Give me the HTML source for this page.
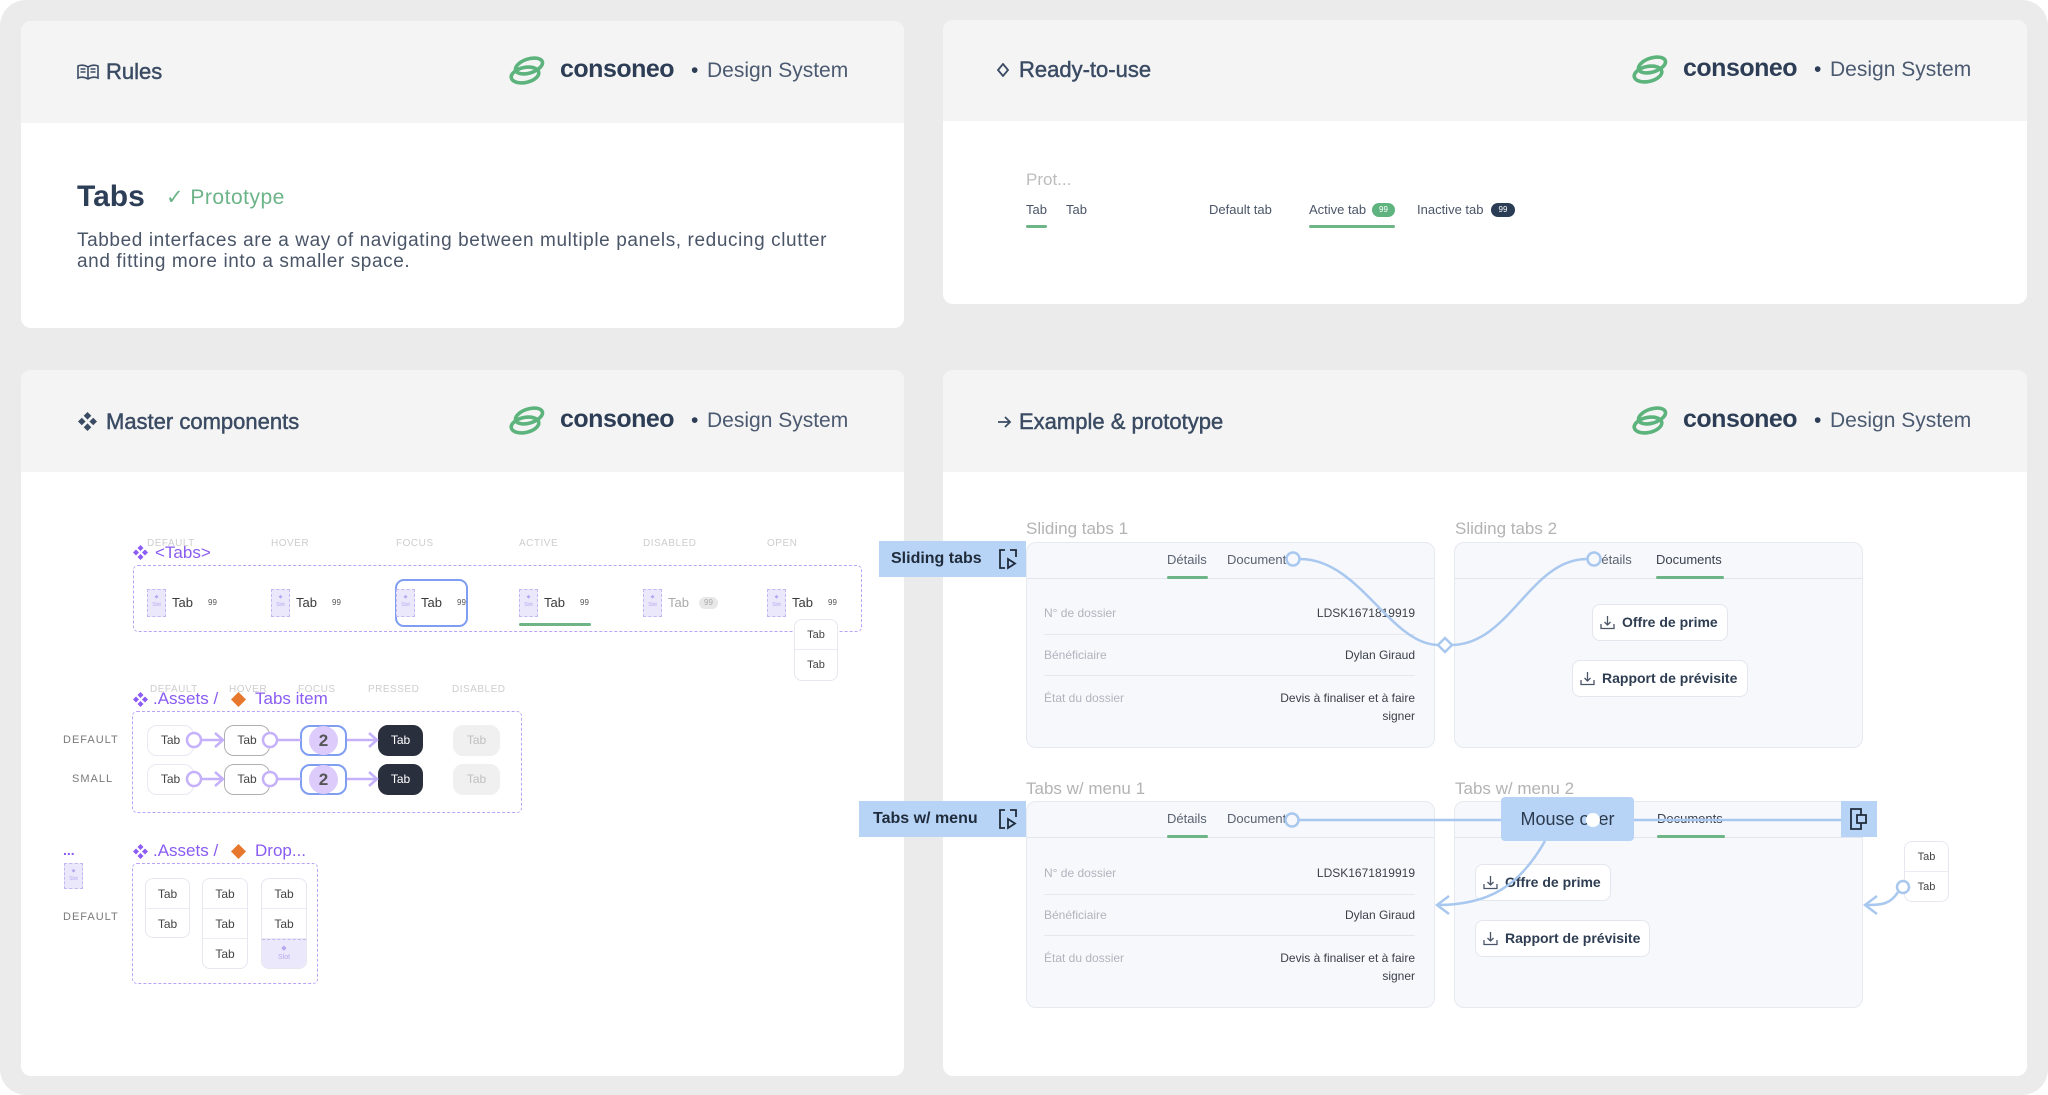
<!DOCTYPE html>
<html><head><meta charset="utf-8">
<style>
*{margin:0;padding:0;box-sizing:border-box}
html,body{width:2048px;height:1095px;overflow:hidden;background:#fff}
body{font-family:"Liberation Sans",Arial,sans-serif;position:relative}
.a{position:absolute;white-space:nowrap}
.bg{left:0;top:0;width:2048px;height:1095px;background:#ebebeb;border-radius:26px}
.panel{background:#fff;border-radius:10px;overflow:hidden}
.hdr{position:absolute;left:0;top:0;right:0;background:#f4f4f4}
.ht{font-size:22px;line-height:28px;color:#3a4b63;-webkit-text-stroke:0.45px #3a4b63}
.cons{font-size:25px;line-height:32px;font-weight:bold;color:#2c3d55;letter-spacing:-0.5px}
.ds{font-size:21px;line-height:32px;color:#4b5a70}
.dot{font-size:21px;line-height:32px;color:#2c3d55}
.st{font-size:10px;line-height:12px;color:#cdcdcd;letter-spacing:.5px}
.pt{font-size:17px;line-height:20px;color:#8a5cf0}
.slot{width:19px;height:28px;background:#ece8fc;border:1px dashed #c4b8f3;font-size:5px;color:#b7a8f0;text-align:center;line-height:8px;padding-top:3px}
.t13{font-size:13px;line-height:16px;color:#3a3a3a}
.b99{width:17px;height:12px;border-radius:6px;font-size:8px;line-height:12px;text-align:center;color:#555;background:#f3f3f3}
.ti{height:31px;border-radius:10px;font-size:12px;line-height:29px;text-align:center;color:#444;background:#fff;border:1px solid #ebe7f3}
.rl{font-size:11px;line-height:14px;color:#7a7a7a;letter-spacing:1px}
.dash{border:1.5px dashed #b9a3f7;border-radius:5px}
.cell{height:30px;font-size:12px;line-height:30px;text-align:center;color:#444;border-bottom:1px solid #eceaf2}
.col{background:#fff;border:1px solid #e9e6f0;border-radius:8px;overflow:hidden}
.card{background:#f7f8fc;border:1px solid #e6e9f0;border-radius:10px;overflow:hidden}
.chd{position:absolute;left:0;top:0;right:0;height:36px;border-bottom:1px solid #e3e6ee}
.ctab{position:absolute;top:9px;font-size:13px;line-height:16px;color:#5a6270}
.uline{position:absolute;height:3px;background:#6db487;border-radius:2px}
.rlab{position:absolute;left:17px;font-size:12px;line-height:14px;color:#b0b4bc}
.rval{position:absolute;right:19px;font-size:12px;line-height:14px;color:#3a3f48;text-align:right}
.sep{position:absolute;left:17px;right:19px;height:1px;background:#e6e8ee}
.cl{font-size:17px;line-height:20px;color:#b3b3b3}
.blue{background:#b7d4f6}
.lab{font-size:16px;font-weight:bold;line-height:36px;color:#1f2b3b}
.btn{position:absolute;height:37px;background:#fff;border:1px solid #e3e6ee;border-radius:8px;font-size:14px;font-weight:bold;color:#2e3d52;line-height:35px}
.btn svg{position:absolute;left:7px;top:10px}
.btn span{position:absolute;left:29px}
</style></head><body>
<div class="a bg"></div>

<!-- Panels -->
<div class="a panel" style="left:21px;top:21px;width:883px;height:307px"><div class="hdr" style="height:102px"></div></div>
<div class="a panel" style="left:943px;top:20px;width:1084px;height:284px"><div class="hdr" style="height:101px"></div></div>
<div class="a panel" style="left:21px;top:370px;width:883px;height:706px"><div class="hdr" style="height:102px"></div></div>
<div class="a panel" style="left:943px;top:370px;width:1084px;height:706px"><div class="hdr" style="height:102px"></div></div>

<!-- Header titles -->
<svg class="a" style="left:77px;top:64px" width="22" height="16" viewBox="0 0 22 16"><g fill="none" stroke="#3a4b63" stroke-width="1.6"><path d="M1 2 Q6 0 11 3 Q16 0 21 2 V14 Q16 12 11 15 Q6 12 1 14 Z"/><path d="M11 3 V15"/><path d="M3.5 5 H8.5 M3.5 8 H8.5 M13.5 5 H18.5 M13.5 8 H18.5"/></g></svg>
<div class="a ht" style="left:106px;top:58px">Rules</div>

<svg class="a" style="left:997px;top:63px" width="12" height="14" viewBox="0 0 12 14"><path d="M6 1 L11 7 L6 13 L1 7 Z" fill="none" stroke="#3a4b63" stroke-width="1.8"/></svg>
<div class="a ht" style="left:1019px;top:56px">Ready-to-use</div>

<svg class="a" style="left:78px;top:412px" width="19" height="19" viewBox="0 0 16 16"><g fill="#3a4b63"><path d="M8 0l3.2 3.2-3.2 3.2-3.2-3.2z"/><path d="M8 9.6l3.2 3.2-3.2 3.2-3.2-3.2z"/><path d="M3.2 4.8l3.2 3.2-3.2 3.2L0 8z"/><path d="M12.8 4.8L16 8l-3.2 3.2L9.6 8z"/></g></svg>
<div class="a ht" style="left:106px;top:408px">Master components</div>

<svg class="a" style="left:997px;top:415px" width="15" height="14" viewBox="0 0 15 14"><g fill="none" stroke="#3a4b63" stroke-width="1.8"><path d="M1 7H13M8 2L13 7 8 12"/></g></svg>
<div class="a ht" style="left:1019px;top:408px">Example &amp; prototype</div>

<!-- Logos -->
<div class="a" style="left:508px;top:55px;width:360px;height:32px">
 <svg class="a" style="left:0;top:1px" width="38" height="30" viewBox="0 0 38 30"><g fill="none" stroke="#5cb37c" stroke-width="3.6"><ellipse cx="21" cy="10" rx="14" ry="7" transform="rotate(-18 21 10)"/><ellipse cx="17" cy="19" rx="14" ry="7.5" transform="rotate(-12 17 19)"/></g></svg>
 <div class="a cons" style="left:52px;top:-2px">consoneo</div>
 <div class="a dot" style="left:183px;top:0">•</div>
 <div class="a ds" style="left:199px;top:0">Design System</div>
</div>
<div class="a" style="left:1631px;top:54px;width:360px;height:32px">
 <svg class="a" style="left:0;top:1px" width="38" height="30" viewBox="0 0 38 30"><g fill="none" stroke="#5cb37c" stroke-width="3.6"><ellipse cx="21" cy="10" rx="14" ry="7" transform="rotate(-18 21 10)"/><ellipse cx="17" cy="19" rx="14" ry="7.5" transform="rotate(-12 17 19)"/></g></svg>
 <div class="a cons" style="left:52px;top:-2px">consoneo</div>
 <div class="a dot" style="left:183px;top:0">•</div>
 <div class="a ds" style="left:199px;top:0">Design System</div>
</div>
<div class="a" style="left:508px;top:405px;width:360px;height:32px">
 <svg class="a" style="left:0;top:1px" width="38" height="30" viewBox="0 0 38 30"><g fill="none" stroke="#5cb37c" stroke-width="3.6"><ellipse cx="21" cy="10" rx="14" ry="7" transform="rotate(-18 21 10)"/><ellipse cx="17" cy="19" rx="14" ry="7.5" transform="rotate(-12 17 19)"/></g></svg>
 <div class="a cons" style="left:52px;top:-2px">consoneo</div>
 <div class="a dot" style="left:183px;top:0">•</div>
 <div class="a ds" style="left:199px;top:0">Design System</div>
</div>
<div class="a" style="left:1631px;top:405px;width:360px;height:32px">
 <svg class="a" style="left:0;top:1px" width="38" height="30" viewBox="0 0 38 30"><g fill="none" stroke="#5cb37c" stroke-width="3.6"><ellipse cx="21" cy="10" rx="14" ry="7" transform="rotate(-18 21 10)"/><ellipse cx="17" cy="19" rx="14" ry="7.5" transform="rotate(-12 17 19)"/></g></svg>
 <div class="a cons" style="left:52px;top:-2px">consoneo</div>
 <div class="a dot" style="left:183px;top:0">•</div>
 <div class="a ds" style="left:199px;top:0">Design System</div>
</div>

<!-- Panel 1 body -->
<div class="a" style="left:77px;top:179px;font-size:30px;line-height:36px;font-weight:bold;color:#2d3e57">Tabs</div>
<div class="a" style="left:166px;top:185px;font-size:21px;line-height:26px;color:#6cb488;letter-spacing:.5px">✓ Prototype</div>
<div class="a" style="left:77px;top:230px;font-size:19px;line-height:21px;color:#4a5568;letter-spacing:.6px;white-space:nowrap">Tabbed interfaces are a way of navigating between multiple panels, reducing clutter<br>and fitting more into a smaller space.</div>

<!-- Panel 2 body -->
<div class="a" style="left:1026px;top:170px;font-size:17px;line-height:20px;color:#bdbdbd">Prot...</div>
<div class="a t13" style="left:1026px;top:202px;color:#4a5568">Tab</div>
<div class="a t13" style="left:1066px;top:202px;color:#4a5568">Tab</div>
<div class="a" style="left:1026px;top:225px;width:21px;height:3px;background:#6db487;border-radius:2px"></div>
<div class="a t13" style="left:1209px;top:202px;color:#4a5568">Default tab</div>
<div class="a t13" style="left:1309px;top:202px;color:#4a5568">Active tab</div>
<div class="a" style="left:1372px;top:203px;width:23px;height:14px;border-radius:7px;background:#5fb37f;color:#fff;font-size:8px;line-height:14px;text-align:center">99</div>
<div class="a" style="left:1309px;top:225px;width:86px;height:3px;background:#6db487;border-radius:2px"></div>
<div class="a t13" style="left:1417px;top:202px;color:#4a5568">Inactive tab</div>
<div class="a" style="left:1491px;top:203px;width:24px;height:14px;border-radius:7px;background:#2b3c55;color:#fff;font-size:8px;line-height:14px;text-align:center">99</div>

<!-- Panel 3 body: <Tabs> -->
<div class="a st" style="left:147px;top:538px">DEFAULT</div>
<div class="a st" style="left:271px;top:538px">HOVER</div>
<div class="a st" style="left:396px;top:538px">FOCUS</div>
<div class="a st" style="left:519px;top:538px">ACTIVE</div>
<div class="a st" style="left:643px;top:538px">DISABLED</div>
<div class="a st" style="left:767px;top:538px">OPEN</div>
<svg class="a" style="left:133px;top:545px" width="15" height="15" viewBox="0 0 16 16"><g fill="#8b5cf6"><path d="M8 0l3.2 3.2-3.2 3.2-3.2-3.2z"/><path d="M8 9.6l3.2 3.2-3.2 3.2-3.2-3.2z"/><path d="M3.2 4.8l3.2 3.2-3.2 3.2L0 8z"/><path d="M12.8 4.8L16 8l-3.2 3.2L9.6 8z"/></g></svg>
<div class="a pt" style="left:155px;top:543px">&lt;Tabs&gt;</div>
<div class="a dash" style="left:133px;top:565px;width:729px;height:67px"></div>

<div class="a" style="left:395px;top:579px;width:73px;height:48px;border:2px solid #7f9ef2;border-radius:9px"></div>
<div class="a" style="left:519px;top:623px;width:72px;height:3px;background:#6db487;border-radius:2px"></div>

<div class="a slot" style="left:147px;top:589px">◆<br>Slot</div><div class="a t13" style="left:172px;top:595px">Tab</div><div class="a b99" style="left:204px;top:597px;background:transparent">99</div>
<div class="a slot" style="left:271px;top:589px">◆<br>Slot</div><div class="a t13" style="left:296px;top:595px">Tab</div><div class="a b99" style="left:328px;top:597px;background:transparent">99</div>
<div class="a slot" style="left:396px;top:589px">◆<br>Slot</div><div class="a t13" style="left:421px;top:595px">Tab</div><div class="a b99" style="left:453px;top:597px;background:transparent">99</div>
<div class="a slot" style="left:519px;top:589px">◆<br>Slot</div><div class="a t13" style="left:544px;top:595px">Tab</div><div class="a b99" style="left:576px;top:597px;background:transparent">99</div>
<div class="a slot" style="left:643px;top:589px">◆<br>Slot</div><div class="a t13" style="left:668px;top:595px;color:#aaa">Tab</div><div class="a b99" style="left:699px;top:597px;background:#e8e8e8;color:#aaa;width:19px">99</div>
<div class="a slot" style="left:767px;top:589px">◆<br>Slot</div><div class="a t13" style="left:792px;top:595px">Tab</div><div class="a b99" style="left:824px;top:597px;background:transparent">99</div>
<div class="a col" style="left:794px;top:619px;width:44px;height:62px"><div class="cell" style="font-size:11px">Tab</div><div class="cell" style="font-size:11px;border-bottom:none">Tab</div></div>

<!-- Tabs item -->
<div class="a st" style="left:150px;top:684px">DEFAULT</div>
<div class="a st" style="left:229px;top:684px">HOVER</div>
<div class="a st" style="left:298px;top:684px">FOCUS</div>
<div class="a st" style="left:368px;top:684px">PRESSED</div>
<div class="a st" style="left:452px;top:684px">DISABLED</div>
<svg class="a" style="left:133px;top:692px" width="15" height="15" viewBox="0 0 16 16"><g fill="#8b5cf6"><path d="M8 0l3.2 3.2-3.2 3.2-3.2-3.2z"/><path d="M8 9.6l3.2 3.2-3.2 3.2-3.2-3.2z"/><path d="M3.2 4.8l3.2 3.2-3.2 3.2L0 8z"/><path d="M12.8 4.8L16 8l-3.2 3.2L9.6 8z"/></g></svg>
<div class="a pt" style="left:153px;top:689px">.Assets /</div>
<svg class="a" style="left:231px;top:692px" width="15" height="15" viewBox="0 0 15 15"><path d="M7.5 0L15 7.5 7.5 15 0 7.5z" fill="#e8772e"/></svg>
<div class="a pt" style="left:255px;top:689px">Tabs item</div>
<div class="a dash" style="left:132px;top:711px;width:390px;height:102px"></div>
<div class="a rl" style="left:63px;top:733px">DEFAULT</div>
<div class="a rl" style="left:72px;top:772px">SMALL</div>

<div class="a ti" style="left:147px;top:725px;width:47px">Tab</div>
<div class="a ti" style="left:224px;top:725px;width:46px;border-color:#b0b0b0">Tab</div>
<div class="a ti" style="left:300px;top:725px;width:47px;border:2px solid #7f9ef2"></div>
<div class="a" style="left:309px;top:726px;width:29px;height:29px;border-radius:15px;background:#dccbfb;font-size:17px;font-weight:bold;line-height:29px;text-align:center;color:#555">2</div>
<div class="a ti" style="left:378px;top:725px;width:45px;background:#2a2f3d;border-color:#2a2f3d;color:#fff">Tab</div>
<div class="a ti" style="left:453px;top:725px;width:47px;background:#f0f0f0;border-color:#f0f0f0;color:#c0c0c0">Tab</div>

<div class="a ti" style="left:147px;top:764px;width:47px">Tab</div>
<div class="a ti" style="left:224px;top:764px;width:46px;border-color:#b0b0b0">Tab</div>
<div class="a ti" style="left:300px;top:764px;width:47px;border:2px solid #7f9ef2"></div>
<div class="a" style="left:309px;top:765px;width:29px;height:29px;border-radius:15px;background:#dccbfb;font-size:17px;font-weight:bold;line-height:29px;text-align:center;color:#555">2</div>
<div class="a ti" style="left:378px;top:764px;width:45px;background:#2a2f3d;border-color:#2a2f3d;color:#fff">Tab</div>
<div class="a ti" style="left:453px;top:764px;width:47px;background:#f0f0f0;border-color:#f0f0f0;color:#c0c0c0">Tab</div>

<!-- Drop section -->
<div class="a" style="left:63px;top:843px;font-size:14px;line-height:14px;color:#8a5cf0;font-weight:bold">...</div>
<div class="a slot" style="left:64px;top:863px;height:26px">◆<br>Slot</div>
<div class="a rl" style="left:63px;top:910px">DEFAULT</div>
<svg class="a" style="left:133px;top:844px" width="15" height="15" viewBox="0 0 16 16"><g fill="#8b5cf6"><path d="M8 0l3.2 3.2-3.2 3.2-3.2-3.2z"/><path d="M8 9.6l3.2 3.2-3.2 3.2-3.2-3.2z"/><path d="M3.2 4.8l3.2 3.2-3.2 3.2L0 8z"/><path d="M12.8 4.8L16 8l-3.2 3.2L9.6 8z"/></g></svg>
<div class="a pt" style="left:153px;top:841px">.Assets /</div>
<svg class="a" style="left:231px;top:844px" width="15" height="15" viewBox="0 0 15 15"><path d="M7.5 0L15 7.5 7.5 15 0 7.5z" fill="#e8772e"/></svg>
<div class="a pt" style="left:255px;top:841px">Drop...</div>
<div class="a dash" style="left:132px;top:863px;width:186px;height:121px"></div>
<div class="a col" style="left:145px;top:878px;width:45px;height:60px"><div class="cell">Tab</div><div class="cell" style="border-bottom:none">Tab</div></div>
<div class="a col" style="left:202px;top:878px;width:46px;height:91px"><div class="cell">Tab</div><div class="cell">Tab</div><div class="cell" style="border-bottom:none">Tab</div></div>
<div class="a col" style="left:261px;top:878px;width:46px;height:91px"><div class="cell">Tab</div><div class="cell">Tab</div><div style="height:31px;background:#ece8fc;border-top:1px dashed #c4b8f3;font-size:7px;line-height:9px;text-align:center;color:#b7a8f0;padding-top:4px">◆<br>Slot</div></div>

<!-- Panel 4 cards -->
<div class="a cl" style="left:1026px;top:519px">Sliding tabs 1</div>
<div class="a cl" style="left:1455px;top:519px">Sliding tabs 2</div>
<div class="a cl" style="left:1026px;top:779px">Tabs w/ menu 1</div>
<div class="a cl" style="left:1455px;top:779px">Tabs w/ menu 2</div>

<div class="a card" style="left:1026px;top:542px;width:409px;height:206px">
 <div class="chd"></div>
 <div class="ctab" style="left:140px">Détails</div>
 <div class="ctab" style="left:200px">Documents</div>
 <div class="uline" style="left:140px;top:33px;width:41px"></div>
 <div class="rlab" style="top:63px">N° de dossier</div><div class="rval" style="top:63px">LDSK1671819919</div>
 <div class="sep" style="top:91px"></div>
 <div class="rlab" style="top:105px">Bénéficiaire</div><div class="rval" style="top:105px">Dylan Giraud</div>
 <div class="sep" style="top:132px"></div>
 <div class="rlab" style="top:148px">État du dossier</div><div class="rval" style="top:148px">Devis à finaliser et à faire</div><div class="rval" style="top:166px">signer</div>
</div>
<div class="a card" style="left:1454px;top:542px;width:409px;height:206px">
 <div class="chd"></div>
 <div class="ctab" style="left:137px">Détails</div>
 <div class="ctab" style="left:201px;color:#3a4250">Documents</div>
 <div class="uline" style="left:201px;top:33px;width:68px"></div>
 <div class="btn" style="left:137px;top:61px;width:136px"><svg width="15" height="15" viewBox="0 0 15 15"><g fill="none" stroke="#4a5568" stroke-width="1.3"><path d="M7.5 1V10M4.5 7L7.5 10 10.5 7M1 9V13.5H14V9"/></g></svg><span>Offre de prime</span></div>
 <div class="btn" style="left:117px;top:117px;width:176px"><svg width="15" height="15" viewBox="0 0 15 15"><g fill="none" stroke="#4a5568" stroke-width="1.3"><path d="M7.5 1V10M4.5 7L7.5 10 10.5 7M1 9V13.5H14V9"/></g></svg><span>Rapport de prévisite</span></div>
</div>
<div class="a card" style="left:1026px;top:801px;width:409px;height:207px">
 <div class="chd"></div>
 <div class="ctab" style="left:140px">Détails</div>
 <div class="ctab" style="left:200px">Documents</div>
 <div class="uline" style="left:140px;top:33px;width:41px"></div>
 <div class="rlab" style="top:64px">N° de dossier</div><div class="rval" style="top:64px">LDSK1671819919</div>
 <div class="sep" style="top:92px"></div>
 <div class="rlab" style="top:106px">Bénéficiaire</div><div class="rval" style="top:106px">Dylan Giraud</div>
 <div class="sep" style="top:133px"></div>
 <div class="rlab" style="top:149px">État du dossier</div><div class="rval" style="top:149px">Devis à finaliser et à faire</div><div class="rval" style="top:167px">signer</div>
</div>
<div class="a card" style="left:1454px;top:801px;width:409px;height:207px">
 <div class="chd"></div>
 <div class="ctab" style="left:202px;color:#3a4250">Documents</div>
 <div class="uline" style="left:202px;top:33px;width:68px"></div>
 <div class="btn" style="left:20px;top:62px;width:136px"><svg width="15" height="15" viewBox="0 0 15 15"><g fill="none" stroke="#4a5568" stroke-width="1.3"><path d="M7.5 1V10M4.5 7L7.5 10 10.5 7M1 9V13.5H14V9"/></g></svg><span>Offre de prime</span></div>
 <div class="btn" style="left:20px;top:118px;width:175px"><svg width="15" height="15" viewBox="0 0 15 15"><g fill="none" stroke="#4a5568" stroke-width="1.3"><path d="M7.5 1V10M4.5 7L7.5 10 10.5 7M1 9V13.5H14V9"/></g></svg><span>Rapport de prévisite</span></div>
</div>

<!-- right dropdown -->
<div class="a col" style="left:1904px;top:841px;width:45px;height:61px"><div class="cell" style="font-size:11px">Tab</div><div class="cell" style="font-size:11px;border-bottom:none">Tab</div></div>

<!-- blue labels -->
<div class="a blue" style="left:879px;top:541px;width:147px;height:36px"><div class="a lab" style="left:12px;top:0">Sliding tabs</div>
 <svg class="a" style="left:119px;top:7px" width="20" height="22" viewBox="0 0 20 22"><g fill="none" stroke="#1f2b3b" stroke-width="1.8"><path d="M7 2H2V20H7M12 2H18V9"/><path d="M10 11L17 15.5 10 20Z"/></g></svg></div>
<div class="a blue" style="left:859px;top:801px;width:167px;height:36px"><div class="a lab" style="left:14px;top:0">Tabs w/ menu</div>
 <svg class="a" style="left:139px;top:7px" width="20" height="22" viewBox="0 0 20 22"><g fill="none" stroke="#1f2b3b" stroke-width="1.8"><path d="M7 2H2V20H7M12 2H18V9"/><path d="M10 11L17 15.5 10 20Z"/></g></svg></div>
<div class="a blue" style="left:1501px;top:797px;width:133px;height:44px;border-radius:4px"><div class="a" style="left:0;width:133px;text-align:center;top:0;font-size:18px;line-height:44px;color:#2c3a4d">Mouse over</div></div>
<div class="a blue" style="left:1841px;top:801px;width:36px;height:36px">
 <svg class="a" style="left:8px;top:6px" width="20" height="24" viewBox="0 0 20 24"><g fill="none" stroke="#1f2b3b" stroke-width="1.8"><path d="M2 2H12V22H2Z"/><path d="M8 8H17V16H8Z" fill="#b7d4f6"/></g></svg></div>

<!-- connectors overlay -->
<svg class="a" style="left:0;top:0" width="2048" height="1095" viewBox="0 0 2048 1095">
 <g fill="none" stroke="#c5b0fa" stroke-width="2.5">
  <line x1="201" y1="740" x2="222" y2="740"/><path d="M215 733L223 740 215 747"/>
  <line x1="277" y1="740" x2="301" y2="740"/>
  <line x1="347" y1="740" x2="376" y2="740"/><path d="M369 733L377 740 369 747"/>
  <line x1="201" y1="779" x2="222" y2="779"/><path d="M215 772L223 779 215 786"/>
  <line x1="277" y1="779" x2="301" y2="779"/>
  <line x1="347" y1="779" x2="376" y2="779"/><path d="M369 772L377 779 369 786"/>
  <circle cx="194" cy="740" r="7" fill="#fff"/><circle cx="270" cy="740" r="7" fill="#fff"/>
  <circle cx="194" cy="779" r="7" fill="#fff"/><circle cx="270" cy="779" r="7" fill="#fff"/>
 </g>
 <g fill="none" stroke="#a9c8ef" stroke-width="2.5">
  <path d="M1300 559 C1360 559 1390 645 1439 645"/>
  <path d="M1451 645 C1510 645 1530 559 1587 559"/>
  <path d="M1445 638 L1452 645 1445 652 1438 645Z" fill="#fff"/>
  <circle cx="1293" cy="559" r="6.5" fill="#f7f8fc"/>
  <circle cx="1594" cy="559" r="6.5" fill="#f7f8fc"/>
  <line x1="1299" y1="820" x2="1501" y2="820"/>
  <line x1="1634" y1="820" x2="1841" y2="820"/>
  <circle cx="1292" cy="820" r="6.5" fill="#f7f8fc"/>
  <path d="M1545 841 C1520 885 1490 905 1437 905"/><path d="M1449 896L1437 905 1449 914"/>
  <path d="M1898 892 C1890 905 1880 905 1866 905"/><path d="M1877 896L1865 905 1877 914"/>
  <circle cx="1903" cy="887" r="6" fill="#fff"/>
 </g>
 <circle cx="1593" cy="820" r="7" fill="#fff"/>
</svg>
</body></html>
